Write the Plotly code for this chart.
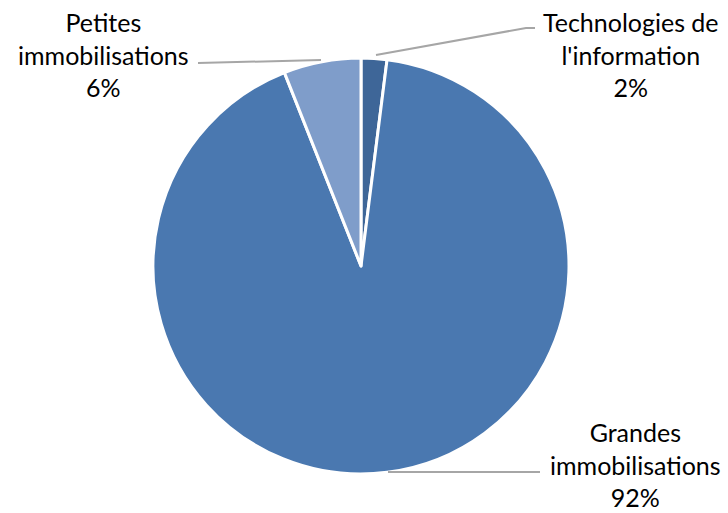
import plotly.graph_objects as go

categories = ["Technologies de<br>l'information", "Grandes<br>immobilisations", "Petites<br>immobilisations"]
values = [2, 92, 6]
colors = ["#3E6698", "#4A78B0", "#7F9DCA"]

W, H = 728, 513
total = sum(values)
pct = [f"{round(v / total * 100)}%" for v in values]

def px(x):
    return x / W

def py(y):
    return 1 - y / H

fig = go.Figure(go.Pie(
    labels=categories,
    values=values,
    sort=False,
    direction="clockwise",
    rotation=0,
    marker=dict(colors=colors, line=dict(color="white", width=3)),
    textinfo="none",
    hoverinfo="label+percent",
    domain=dict(x=[px(153), px(569)], y=[py(475), py(57)]),
    showlegend=False,
))

label_pos = [(631, 54), (635, 464), (103, 54)]
annotations = []
for (cx, cy), lab, p in zip(label_pos, categories, pct):
    annotations.append(dict(
        x=px(cx), y=py(cy), xref="paper", yref="paper",
        text=f"{lab}<br>{p}", showarrow=False,
        font=dict(family="Lato", size=25, color="#000000"),
        xanchor="center", yanchor="middle", align="center",
    ))

line_style = dict(color="#A6A6A6", width=2)
shapes = [
    dict(type="path", xref="paper", yref="paper",
         path=f"M {px(376)},{py(55)} L {px(526)},{py(28)} L {px(535)},{py(28)}",
         line=line_style),
    dict(type="line", xref="paper", yref="paper",
         x0=px(321), y0=py(60), x1=px(198), y1=py(63), line=line_style),
    dict(type="line", xref="paper", yref="paper",
         x0=px(388), y0=py(472), x1=px(540), y1=py(472), line=line_style),
]

fig.update_layout(
    width=W, height=H,
    margin=dict(l=0, r=0, t=0, b=0),
    paper_bgcolor="white",
    plot_bgcolor="white",
    annotations=annotations,
    shapes=shapes,
)

fig.write_html("out.html", config={"displayModeBar": False},
               post_script="document.body.style.margin='0';document.body.style.padding='0';")
